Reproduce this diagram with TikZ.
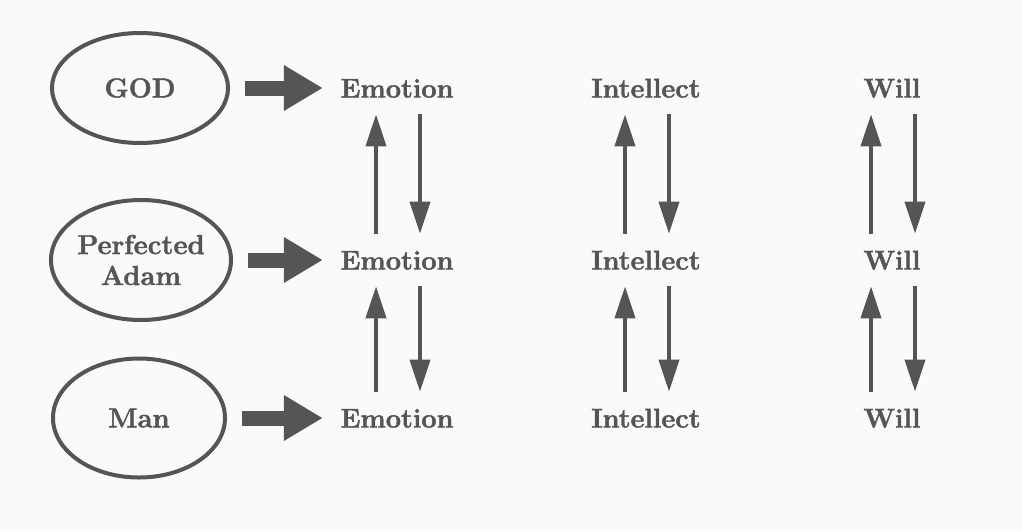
\documentclass[tikz,border=0pt]{standalone}
\usepackage{fontspec}
\usepackage{tikz}
\usetikzlibrary{arrows.meta, positioning, shapes.geometric}
\newfontfamily\heavyfont[BoldFeatures={FakeBold=1.6}]{Latin Modern Roman}
\definecolor{inkGray}{HTML}{555555}
\definecolor{paper}{HTML}{FAFAFA}

\begin{document}
\begin{tikzpicture}[
      soul/.style={draw=inkGray, ellipse, line width=0.08cm, inner sep=0pt,
                   text=inkGray, align=center,
                   font=\heavyfont\fontsize{15.6}{17.6}\selectfont\bfseries},
      lbl/.style={text=inkGray, text height=0.38cm, text depth=0pt,
                  inner xsep=3pt, inner ysep=0.33cm,
                  font=\heavyfont\fontsize{15.4}{17}\selectfont\bfseries},
      bigarr/.style={draw=inkGray, line width=0.3cm,
                     -{Triangle[length=0.78cm, width=0.86cm]},
                     shorten <=0.3cm, shorten >=0.24cm},
      thinarr/.style={draw=inkGray, line width=0.08cm,
                      -{Triangle[length=0.64cm, width=0.4cm]}}]
    % page
    \fill[paper] (0,0) rectangle (20.44,-10.62);
    \useasboundingbox (0,0) rectangle (20.44,-10.62);
    % left column
    \node[soul, minimum width=3.52cm, minimum height=2.2cm]  (god)  at (2.80,-1.76) {GOD};
    \node[soul, minimum width=3.46cm, minimum height=2.4cm]  (adam) at (2.82,-5.20) {Perfected\\Adam};
    \node[soul, minimum width=3.44cm, minimum height=2.38cm] (man)  at (2.78,-8.36) {Man};
    % faculties
    \node[lbl] (emo1) at (7.94,-1.76)  {Emotion};
    \node[lbl] (emo2) at (7.94,-5.20)  {Emotion};
    \node[lbl] (emo3) at (7.94,-8.36)  {Emotion};
    \node[lbl] (int1) at (12.92,-1.76) {Intellect};
    \node[lbl] (int2) at (12.92,-5.20) {Intellect};
    \node[lbl] (int3) at (12.92,-8.36) {Intellect};
    \node[lbl] (wil1) at (17.84,-1.76) {Will};
    \node[lbl] (wil2) at (17.84,-5.20) {Will};
    \node[lbl] (wil3) at (17.84,-8.36) {Will};
    % thick arrows
    \foreach \a/\b in {god/emo1, adam/emo2, man/emo3}
      \draw[bigarr] (\a) -- (\b);
    % up and down pairs
    \foreach \lo/\hi in {emo2/emo1, emo3/emo2, int2/int1, int3/int2, wil2/wil1, wil3/wil2}
    {
      \draw[thinarr] ([xshift=-0.42cm]\lo.north) -- ([xshift=-0.42cm]\hi.south);
      \draw[thinarr] ([xshift=0.46cm]\hi.south) -- ([xshift=0.46cm]\lo.north);
    }
\end{tikzpicture}
\end{document}
